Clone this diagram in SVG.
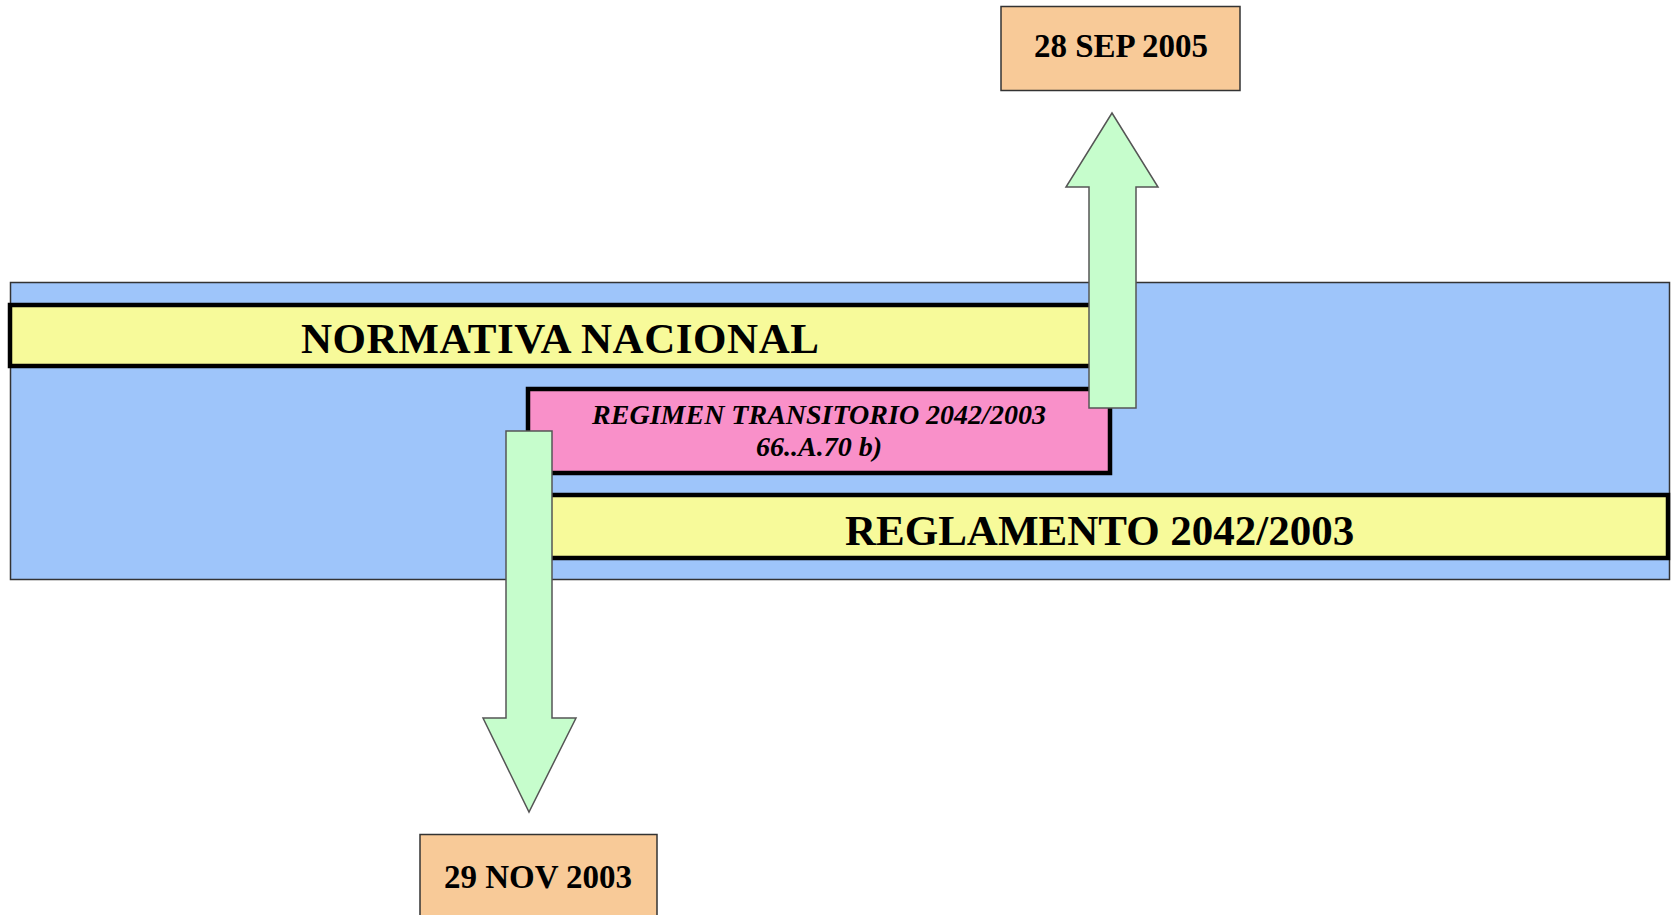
<svg xmlns="http://www.w3.org/2000/svg" width="1672" height="915" viewBox="0 0 1672 915">
<style>
.bar{fill:#f7fa9a;stroke:#000;stroke-width:4.5}
.date{fill:#f8ca98;stroke:#333;stroke-width:1.5}
.arrow{fill:#c6fdcc;stroke:#555;stroke-width:1.5;stroke-linejoin:miter}
.t{font-family:"Liberation Serif","Times New Roman",serif;font-weight:bold;fill:#000}
</style>
<rect width="1672" height="915" fill="#fff"/>
<g id="background">
<rect x="10.5" y="282.5" width="1659" height="297" fill="#9ec5fa" stroke="#333" stroke-width="1.5"/>
</g>
<g id="normativa">
<rect class="bar" x="10" y="305" width="1100" height="61"/>
<text class="t" x="301" y="353" font-size="43" textLength="518" lengthAdjust="spacing">NORMATIVA NACIONAL</text>
</g>
<g id="regimen">
<rect x="528" y="389" width="582" height="84" fill="#f990c9" stroke="#000" stroke-width="4.5"/>
<text class="t" x="819" y="424" font-size="28" font-style="italic" text-anchor="middle">REGIMEN TRANSITORIO 2042/2003</text>
<text class="t" x="819" y="456" font-size="28" font-style="italic" text-anchor="middle">66..A.70 b)</text>
</g>
<g id="reglamento">
<rect class="bar" x="530" y="495" width="1138" height="63"/>
<text class="t" x="845" y="545" font-size="43">REGLAMENTO 2042/2003</text>
</g>
<g id="connectors">
<polygon class="arrow" points="1089,408 1136,408 1136,187 1158,187 1112,113 1066,187 1089,187"/>
<polygon class="arrow" points="506,431 552,431 552,718 576,718 529,812 483,718 506,718"/>
</g>
<g id="date-2005">
<rect class="date" x="1001" y="6.5" width="239" height="84"/>
<text class="t" x="1121" y="57" font-size="33" text-anchor="middle">28 SEP 2005</text>
</g>
<g id="date-2003">
<rect class="date" x="420" y="834.5" width="237" height="85"/>
<text class="t" x="538" y="888" font-size="33" text-anchor="middle">29 NOV 2003</text>
</g>
</svg>
